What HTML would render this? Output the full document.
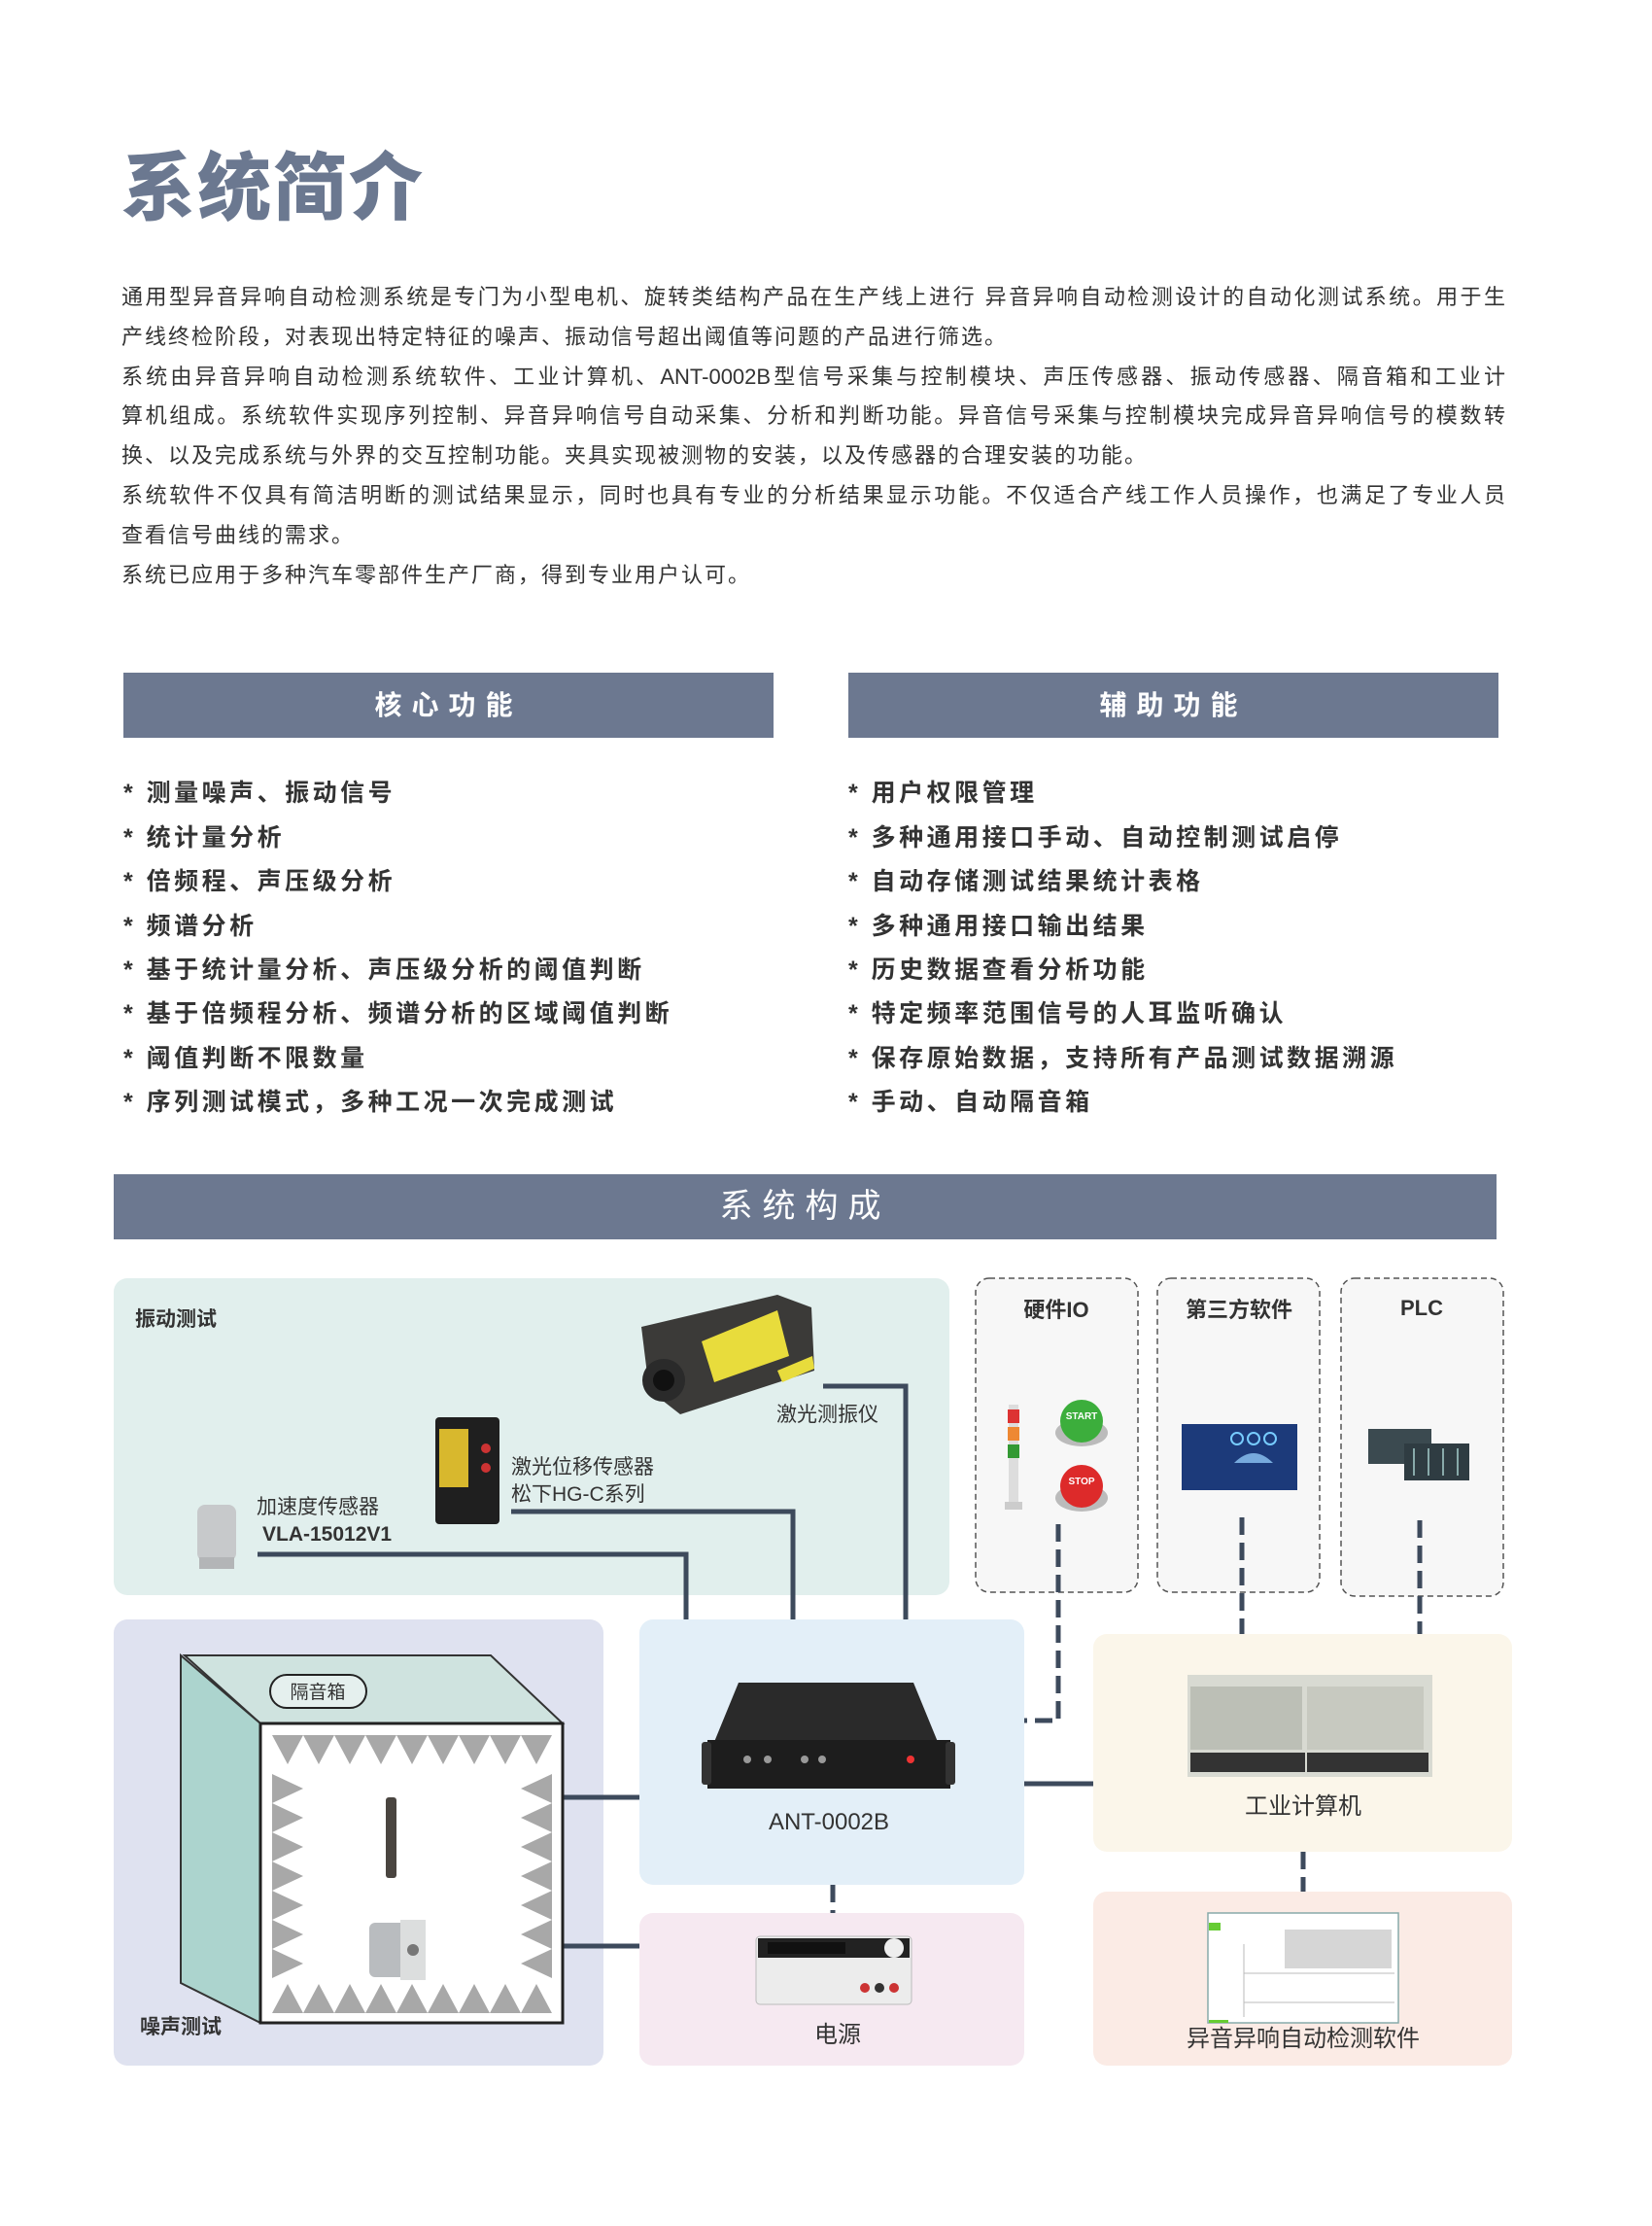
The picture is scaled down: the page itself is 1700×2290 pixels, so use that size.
<!DOCTYPE html>
<html><head><meta charset="utf-8">
<style>
*{margin:0;padding:0;box-sizing:border-box}
html,body{width:1700px;height:2290px;background:#fff;overflow:hidden}
body{position:relative;font-family:"Liberation Sans","Noto Sans CJK SC",sans-serif;color:#333}
.abs{position:absolute}
h1{position:absolute;left:125px;top:150px;font-size:76px;font-weight:900;color:#6b7890;letter-spacing:2px;line-height:90px}
.p{position:absolute;left:125px;width:1424px;font-size:22px;line-height:30px;color:#333;white-space:nowrap;letter-spacing:2px}
.j{text-align:justify;text-align-last:justify;letter-spacing:0}
.bar{position:absolute;background:#6c7890;color:#fff;text-align:center;font-weight:bold}
.li{position:absolute;font-size:25px;font-weight:bold;letter-spacing:3.5px;line-height:30px;color:#333;white-space:nowrap}
</style></head><body>
<h1>系统简介</h1>
<div class="p j" style="top:291px">通用型异音异响自动检测系统是专门为小型电机、旋转类结构产品在生产线上进行 异音异响自动检测设计的自动化测试系统。用于生</div>
<div class="p" style="top:332px">产线终检阶段，对表现出特定特征的噪声、振动信号超出阈值等问题的产品进行筛选。</div>
<div class="p j" style="top:373px">系统由异音异响自动检测系统软件、工业计算机、ANT-0002B型信号采集与控制模块、声压传感器、振动传感器、隔音箱和工业计</div>
<div class="p j" style="top:413px">算机组成。系统软件实现序列控制、异音异响信号自动采集、分析和判断功能。异音信号采集与控制模块完成异音异响信号的模数转</div>
<div class="p" style="top:454px">换、以及完成系统与外界的交互控制功能。夹具实现被测物的安装，以及传感器的合理安装的功能。</div>
<div class="p j" style="top:495px">系统软件不仅具有简洁明断的测试结果显示，同时也具有专业的分析结果显示功能。不仅适合产线工作人员操作，也满足了专业人员</div>
<div class="p" style="top:536px">查看信号曲线的需求。</div>
<div class="p" style="top:577px">系统已应用于多种汽车零部件生产厂商，得到专业用户认可。</div>

<div class="bar" style="left:127px;top:692px;width:669px;height:67px;line-height:67px;font-size:28px;letter-spacing:10px">核心功能</div>
<div class="bar" style="left:873px;top:692px;width:669px;height:67px;line-height:67px;font-size:28px;letter-spacing:10px">辅助功能</div>

<div class="li" style="left:127px;top:801px">* 测量噪声、振动信号</div>
<div class="li" style="left:127px;top:847px">* 统计量分析</div>
<div class="li" style="left:127px;top:892px">* 倍频程、声压级分析</div>
<div class="li" style="left:127px;top:938px">* 频谱分析</div>
<div class="li" style="left:127px;top:983px">* 基于统计量分析、声压级分析的阈值判断</div>
<div class="li" style="left:127px;top:1028px">* 基于倍频程分析、频谱分析的区域阈值判断</div>
<div class="li" style="left:127px;top:1074px">* 阈值判断不限数量</div>
<div class="li" style="left:127px;top:1119px">* 序列测试模式，多种工况一次完成测试</div>

<div class="li" style="left:873px;top:801px">* 用户权限管理</div>
<div class="li" style="left:873px;top:847px">* 多种通用接口手动、自动控制测试启停</div>
<div class="li" style="left:873px;top:892px">* 自动存储测试结果统计表格</div>
<div class="li" style="left:873px;top:938px">* 多种通用接口输出结果</div>
<div class="li" style="left:873px;top:983px">* 历史数据查看分析功能</div>
<div class="li" style="left:873px;top:1028px">* 特定频率范围信号的人耳监听确认</div>
<div class="li" style="left:873px;top:1074px">* 保存原始数据，支持所有产品测试数据溯源</div>
<div class="li" style="left:873px;top:1119px">* 手动、自动隔音箱</div>

<div class="bar" style="left:117px;top:1208px;width:1423px;height:67px;line-height:67px;font-size:34px;font-weight:normal;letter-spacing:10px">系统构成</div>

<svg class="abs" style="left:0;top:0" width="1700" height="2290" viewBox="0 0 1700 2290" font-family="Liberation Sans, Noto Sans CJK SC, sans-serif">
<rect x="117" y="1315" width="860" height="326" rx="14" fill="#e1efed"/>
<rect x="117" y="1666" width="504" height="459" rx="14" fill="#dfe2f0"/>
<rect x="658" y="1666" width="396" height="273" rx="14" fill="#e3eff8"/>
<rect x="658" y="1968" width="396" height="157" rx="14" fill="#f6e9f1"/>
<rect x="1125" y="1681" width="431" height="224" rx="14" fill="#fbf6ea"/>
<rect x="1125" y="1946" width="431" height="179" rx="14" fill="#fbebe5"/>
<g fill="#f7f7f7" stroke="#555" stroke-width="1.5" stroke-dasharray="6,4">
<rect x="1004" y="1315" width="167" height="323" rx="14"/>
<rect x="1191" y="1315" width="167" height="323" rx="14"/>
<rect x="1380" y="1315" width="167" height="327" rx="14"/>
</g>
<g font-size="22" font-weight="bold" fill="#333" text-anchor="middle">
<text x="1087" y="1355">硬件IO</text>
<text x="1275" y="1355">第三方软件</text>
<text x="1463" y="1353">PLC</text>
</g>
<g stroke="#3d4a5c" stroke-width="5" fill="none">
<polyline points="847,1426 932,1426 932,1666"/>
<polyline points="526,1555 816,1555 816,1666"/>
<polyline points="265,1599 706,1599 706,1666"/>
<line x1="422" y1="1849" x2="555" y2="1849"/>
<line x1="579" y1="1849" x2="658" y2="1849"/>
<line x1="440" y1="2002" x2="658" y2="2002"/>
<line x1="1054" y1="1835" x2="1125" y2="1835"/>
</g>
<g stroke="#3d4a5c" stroke-width="5" fill="none" stroke-dasharray="18,8">
<polyline points="1089,1568 1089,1770 1054,1770"/>
<line x1="1278" y1="1561" x2="1278" y2="1681"/>
<line x1="1461" y1="1564" x2="1461" y2="1681"/>
<line x1="857" y1="1939" x2="857" y2="1968"/>
<line x1="1341" y1="1905" x2="1341" y2="1946"/>
</g>
<g font-size="21" fill="#333">
<text x="139" y="1364" font-weight="bold">振动测试</text>
<text x="144" y="2092" font-weight="bold">噪声测试</text>
<text x="799" y="1462">激光测振仪</text>
<text x="526" y="1516">激光位移传感器</text>
<text x="526" y="1544">松下HG-C系列</text>
<text x="264" y="1557">加速度传感器</text>
<text x="270" y="1585" font-weight="bold">VLA-15012V1</text>
<text x="421" y="1902" font-size="18" font-weight="bold">1/2英寸传声器</text>
<text x="425" y="1928" font-size="18" font-weight="bold">VLN-5001</text>
</g>
<g font-size="24" fill="#333" text-anchor="middle">
<text x="853" y="1882">ANT-0002B</text>
<text x="1341" y="1866">工业计算机</text>
<text x="862" y="2101">电源</text>
<text x="1341" y="2105">异音异响自动检测软件</text>
</g>
<polygon points="190,1703 505,1703 579,1773 268,1773" fill="#cfe3df" stroke="#333" stroke-width="2"/>
<polygon points="186,1703 268,1773 268,2081 186,2040" fill="#acd4ce" stroke="#333" stroke-width="2"/>
<rect x="268" y="1773" width="311" height="308" fill="#fff" stroke="#222" stroke-width="3"/>
<rect x="278" y="1723" width="99" height="34" rx="17" fill="#e5f0ee" stroke="#222" stroke-width="2"/>
<text x="327" y="1747" font-size="19" text-anchor="middle" fill="#333">隔音箱</text>
<g fill="#a8a8a8">
<path d="M280,1785 L568,1785 L552,1815 L536,1785 L520,1815 L504,1785 L488,1815 L472,1785 L456,1815 L440,1785 L424,1815 L408,1785 L392,1815 L376,1785 L360,1815 L344,1785 L328,1815 L312,1785 L296,1815 Z"/>
<path d="M280,2071 L568,2071 L552,2041 L536,2071 L520,2041 L504,2071 L488,2041 L472,2071 L456,2041 L440,2071 L424,2041 L408,2071 L392,2041 L376,2071 L360,2041 L344,2071 L328,2041 L312,2071 L296,2041 Z"/>
<path d="M280,1825 L280,2035 L312,2020 L280,2005 L312,1990 L280,1975 L312,1960 L280,1945 L312,1930 L280,1915 L312,1900 L280,1885 L312,1870 L280,1855 L312,1840 Z"/>
<path d="M568,1825 L568,2035 L536,2020 L568,2005 L536,1990 L568,1975 L536,1960 L568,1945 L536,1930 L568,1915 L536,1900 L568,1885 L536,1870 L568,1855 L536,1840 Z"/>
</g>
<rect x="397" y="1849" width="11" height="83" rx="3" fill="#4a4540"/>
<rect x="380" y="1978" width="50" height="56" rx="6" fill="#b9bcbf"/>
<rect x="412" y="1975" width="26" height="62" fill="#dcdede"/>
<circle cx="425" cy="2006" r="6" fill="#777"/>
<rect x="203" y="1548" width="40" height="58" rx="8" fill="#c7c9cb"/>
<rect x="205" y="1602" width="36" height="12" fill="#b3b5b7"/>
<rect x="448" y="1458" width="66" height="110" rx="4" fill="#1f1f1f"/>
<rect x="452" y="1470" width="30" height="60" fill="#d8b82d"/>
<circle cx="500" cy="1490" r="5" fill="#c33"/><circle cx="500" cy="1510" r="5" fill="#c33"/>
<!-- laser vibrometer (smaller, clear of label) -->
<polygon points="660,1365 800,1332 835,1345 838,1410 700,1455 668,1430" fill="#3b3a38"/>
<polygon points="722,1380 800,1348 812,1395 735,1422" fill="#e8dc3c"/>
<polygon points="800,1410 836,1395 838,1408 805,1422" fill="#e8dc3c"/>
<circle cx="683" cy="1420" r="22" fill="#2a2a2a"/><circle cx="683" cy="1420" r="11" fill="#111"/>
<polygon points="760,1731 940,1731 965,1792 735,1792" fill="#2a2a2a"/>
<rect x="728" y="1790" width="250" height="50" fill="#1d1d1d"/>
<rect x="722" y="1792" width="10" height="44" rx="3" fill="#333"/>
<rect x="973" y="1792" width="10" height="44" rx="3" fill="#333"/>
<circle cx="769" cy="1810" r="4" fill="#999"/><circle cx="790" cy="1810" r="4" fill="#999"/>
<circle cx="828" cy="1810" r="4" fill="#999"/><circle cx="846" cy="1810" r="4" fill="#999"/>
<circle cx="937" cy="1810" r="4" fill="#e33"/>
<rect x="1222" y="1723" width="252" height="105" fill="#d8dad2"/>
<rect x="1225" y="1735" width="115" height="65" fill="#bcbfb6"/>
<rect x="1345" y="1735" width="120" height="65" fill="#c7c9c0"/>
<rect x="1225" y="1803" width="118" height="20" fill="#333"/>
<rect x="1345" y="1803" width="125" height="20" fill="#333"/>
<rect x="778" y="1992" width="160" height="70" rx="4" fill="#ececec" stroke="#bbb"/>
<rect x="780" y="1994" width="156" height="20" fill="#222"/>
<rect x="790" y="1998" width="80" height="12" fill="#111"/>
<circle cx="920" cy="2004" r="10" fill="#eee"/>
<circle cx="890" cy="2045" r="5" fill="#c33"/><circle cx="905" cy="2045" r="5" fill="#333"/><circle cx="920" cy="2045" r="5" fill="#c33"/>
<rect x="1243" y="1968" width="196" height="113" fill="#fff" stroke="#8aa" stroke-width="1.5"/>
<rect x="1244" y="1978" width="12" height="8" fill="#6c3"/>
<rect x="1322" y="1985" width="110" height="40" fill="#d6d6d6"/>
<g stroke="#bbb"><line x1="1280" y1="2030" x2="1435" y2="2030"/><line x1="1280" y1="2060" x2="1435" y2="2060"/><line x1="1280" y1="2000" x2="1280" y2="2075"/></g>
<rect x="1244" y="2078" width="20" height="3" fill="#6c3"/>
<rect x="1038" y="1445" width="10" height="100" fill="#ddd"/>
<rect x="1037" y="1450" width="12" height="14" fill="#d33"/>
<rect x="1037" y="1468" width="12" height="14" fill="#e83"/>
<rect x="1037" y="1486" width="12" height="14" fill="#393"/>
<rect x="1034" y="1545" width="18" height="8" fill="#ccc"/>
<ellipse cx="1113" cy="1474" rx="27" ry="14" fill="#bbb"/>
<circle cx="1113" cy="1462" r="22" fill="#3cae3c"/>
<text x="1113" y="1460" font-size="10" fill="#fff" text-anchor="middle" font-weight="bold">START</text>
<ellipse cx="1113" cy="1541" rx="27" ry="14" fill="#bbb"/>
<circle cx="1113" cy="1529" r="22" fill="#dd2a2a"/>
<text x="1113" y="1527" font-size="10" fill="#fff" text-anchor="middle" font-weight="bold">STOP</text>
<rect x="1216" y="1465" width="119" height="68" fill="#1c3a7a"/>
<path d="M1270,1505 Q1290,1485 1310,1505 Z" fill="#7ad"/>
<g fill="none" stroke="#7cf" stroke-width="2"><circle cx="1273" cy="1480" r="6"/><circle cx="1290" cy="1480" r="6"/><circle cx="1307" cy="1480" r="6"/></g>
<rect x="1408" y="1470" width="65" height="36" fill="#3b4a50"/>
<rect x="1445" y="1485" width="67" height="38" fill="#2f3c42"/>
<g stroke="#8aa" stroke-width="2"><line x1="1455" y1="1490" x2="1455" y2="1518"/><line x1="1470" y1="1490" x2="1470" y2="1518"/><line x1="1485" y1="1490" x2="1485" y2="1518"/><line x1="1500" y1="1490" x2="1500" y2="1518"/></g>
</svg>
</body></html>
